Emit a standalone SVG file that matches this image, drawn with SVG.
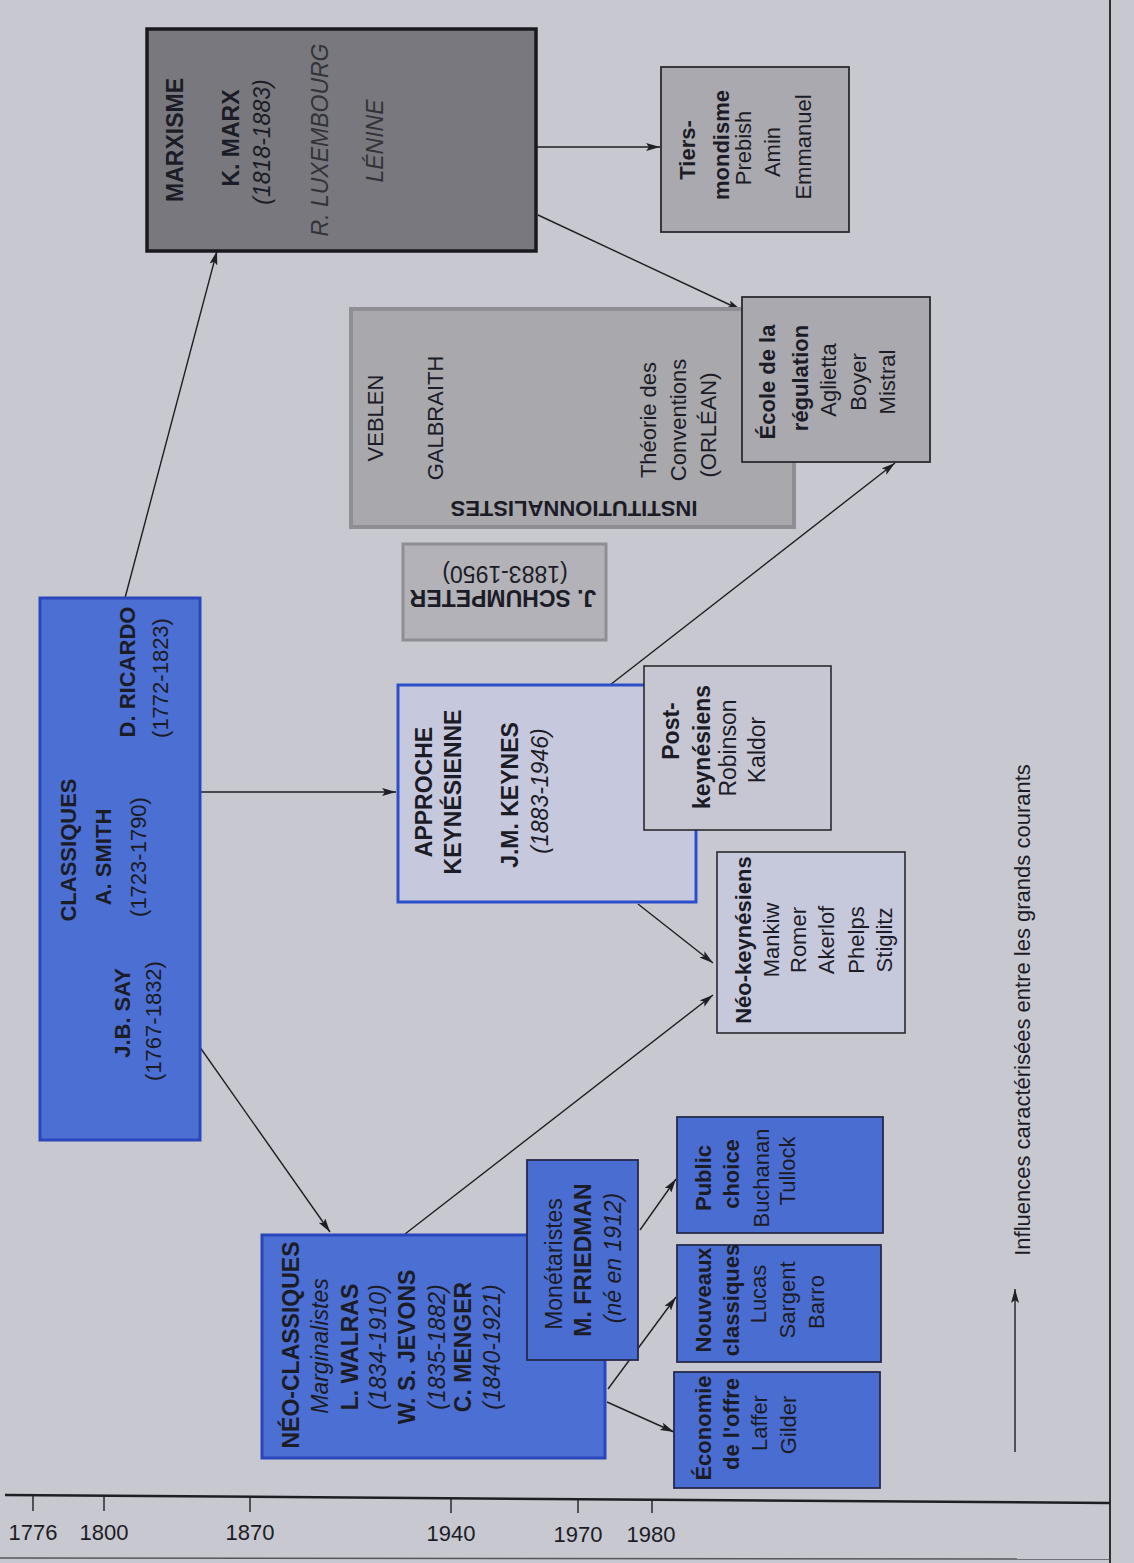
<svg xmlns="http://www.w3.org/2000/svg" width="1134" height="1563" viewBox="0 0 1134 1563">
<defs>
<marker id="ah" viewBox="0 0 14 8" refX="14" refY="4" markerWidth="14" markerHeight="8" markerUnits="userSpaceOnUse" orient="auto">
<path d="M0,0 L14,4 L0,8 L3,4 Z" fill="#1e1e24"/>
</marker>
<style>
text{font-family:"Liberation Sans",Arial,sans-serif;font-size:22px;fill:#1c1c26;text-anchor:middle}
.b{font-weight:bold}
.i{font-style:italic}
.f23{font-size:23px}
.lg{fill:#333338}
.con line{stroke:#1e1e24;stroke-width:1.4;fill:none}
.blue{fill:#4b6fd3;stroke:#2a46bc;stroke-width:3}
.blue2{fill:#4a6dd1;stroke:#262a4a;stroke-width:1.8}
.gray{fill:#a9a9af;stroke:#2a2a30;stroke-width:1.8}
.light{fill:#c6c8dc;stroke:#2a2a30;stroke-width:1.6}
</style>
</defs>
<rect x="0" y="0" width="1134" height="1563" fill="#c8c8d0"/>

<g id="connectors" class="con">
<line x1="125" y1="598" x2="217" y2="251" marker-end="url(#ah)"/>
<line x1="537" y1="147" x2="660" y2="147" marker-end="url(#ah)"/>
<line x1="538" y1="215" x2="741" y2="310" marker-end="url(#ah)"/>
<line x1="200" y1="792" x2="396" y2="792" marker-end="url(#ah)"/>
<line x1="197" y1="1043" x2="330" y2="1232" marker-end="url(#ah)"/>
<line x1="610" y1="685" x2="895" y2="463" marker-end="url(#ah)"/>
<line x1="638" y1="904" x2="713" y2="963" marker-end="url(#ah)"/>
<line x1="405" y1="1234" x2="713" y2="995" marker-end="url(#ah)"/>
<line x1="640" y1="1230" x2="676" y2="1179" marker-end="url(#ah)"/>
<line x1="608" y1="1389" x2="676" y2="1297" marker-end="url(#ah)"/>
<line x1="607" y1="1402" x2="674" y2="1432" marker-end="url(#ah)"/>
<line x1="1015" y1="1452" x2="1015" y2="1289" marker-end="url(#ah)"/>
</g>

<g id="marxisme">
<rect x="147" y="29" width="389" height="222" fill="#78787e" stroke="#1a1a1e" stroke-width="3.5"/>
<text class="b f23" transform="translate(183,140) rotate(-90)">MARXISME</text>
<text class="b f23" transform="translate(239,138) rotate(-90)">K. MARX</text>
<text class="i f23" transform="translate(270,142) rotate(-90)">(1818-1883)</text>
<text class="i f23 lg" transform="translate(328,140) rotate(-90)">R. LUXEMBOURG</text>
<text class="i f23 lg" transform="translate(383,141) rotate(-90)">LÉNINE</text>
</g>

<g id="tiers-mondisme">
<rect x="661" y="67" width="188" height="165" class="gray"/>
<text class="b" transform="translate(695,150) rotate(-90)">Tiers-</text>
<text class="b" transform="translate(729,145) rotate(-90)">mondisme</text>
<text transform="translate(751,148) rotate(-90)">Prebish</text>
<text transform="translate(780,152) rotate(-90)">Amin</text>
<text transform="translate(811,147) rotate(-90)">Emmanuel</text>
</g>

<g id="institutionnalistes">
<rect x="351" y="309" width="443" height="218" fill="#a8a8ad" stroke="#8e8e94" stroke-width="4"/>
<text transform="translate(383,418) rotate(-90)">VEBLEN</text>
<text transform="translate(443,418) rotate(-90)">GALBRAITH</text>
<text transform="translate(656,420) rotate(-90)">Théorie des</text>
<text transform="translate(686,420) rotate(-90)">Conventions</text>
<text transform="translate(716,425) rotate(-90)">(ORLÉAN)</text>
<text class="b" transform="translate(574,501) rotate(180)">INSTITUTIONNALISTES</text>
</g>

<g id="regulation">
<rect x="742" y="297" width="188" height="165" class="gray"/>
<text class="b" transform="translate(775,382) rotate(-90)">École de la</text>
<text class="b" transform="translate(808,378) rotate(-90)">régulation</text>
<text transform="translate(836,380) rotate(-90)">Aglietta</text>
<text transform="translate(866,382) rotate(-90)">Boyer</text>
<text transform="translate(895,382) rotate(-90)">Mistral</text>
</g>

<g id="schumpeter">
<rect x="403" y="544" width="203" height="96" fill="#b2b2b8" stroke="#8e8e94" stroke-width="3"/>
<text class="b f23" transform="translate(503,590) rotate(180)">J. SCHUMPETER</text>
<text class="f23" transform="translate(505,566) rotate(180)">(1883-1950)</text>
</g>

<g id="classiques">
<rect x="40" y="598" width="160" height="542" class="blue"/>
<text class="b" transform="translate(76,850) rotate(-90)">CLASSIQUES</text>
<text class="b" transform="translate(111,857) rotate(-90)">A. SMITH</text>
<text transform="translate(146,857) rotate(-90)">(1723-1790)</text>
<text class="b" transform="translate(135,672) rotate(-90)">D. RICARDO</text>
<text transform="translate(168,678) rotate(-90)">(1772-1823)</text>
<text class="b" transform="translate(130,1013) rotate(-90)">J.B. SAY</text>
<text transform="translate(161,1021) rotate(-90)">(1767-1832)</text>
</g>

<g id="keynesienne">
<rect x="398" y="685" width="298" height="217" fill="#c6c8de" stroke="#2c4ecb" stroke-width="3"/>
<text class="b f23" transform="translate(432,792) rotate(-90)">APPROCHE</text>
<text class="b f23" transform="translate(461,792) rotate(-90)">KEYNÉSIENNE</text>
<text class="b f23" transform="translate(518,795) rotate(-90)">J.M. KEYNES</text>
<text class="i f23" transform="translate(548,791) rotate(-90)">(1883-1946)</text>
</g>

<g id="post-keynesiens">
<rect x="644" y="666" width="187" height="164" fill="#c6c7d3" stroke="#2a2a30" stroke-width="1.6"/>
<text class="b f23" transform="translate(679,731) rotate(-90)">Post-</text>
<text class="b f23" transform="translate(710,747) rotate(-90)">keynésiens</text>
<text class="f23" transform="translate(736,748) rotate(-90)">Robinson</text>
<text class="f23" transform="translate(765,750) rotate(-90)">Kaldor</text>
</g>

<g id="neo-keynesiens">
<rect x="717" y="852" width="188" height="181" class="light"/>
<text class="b" transform="translate(751,940) rotate(-90)">Néo-keynésiens</text>
<text transform="translate(779,940) rotate(-90)">Mankiw</text>
<text transform="translate(806,940) rotate(-90)">Romer</text>
<text transform="translate(834,940) rotate(-90)">Akerlof</text>
<text transform="translate(864,940) rotate(-90)">Phelps</text>
<text transform="translate(892,940) rotate(-90)">Stiglitz</text>
</g>

<g id="neo-classiques">
<rect x="262" y="1235" width="343" height="223" class="blue"/>
<text class="b f23" transform="translate(299,1345) rotate(-90)">NÉO-CLASSIQUES</text>
<text class="i f23" transform="translate(328,1346) rotate(-90)">Marginalistes</text>
<text class="b f23" transform="translate(358,1347) rotate(-90)">L. WALRAS</text>
<text class="i f23" transform="translate(386,1347) rotate(-90)">(1834-1910)</text>
<text class="b f23" transform="translate(415,1347) rotate(-90)">W. S. JEVONS</text>
<text class="i f23" transform="translate(445,1347) rotate(-90)">(1835-1882)</text>
<text class="b f23" transform="translate(471,1347) rotate(-90)">C. MENGER</text>
<text class="i f23" transform="translate(500,1347) rotate(-90)">(1840-1921)</text>
</g>

<g id="monetaristes">
<rect x="527" y="1160" width="111" height="200" class="blue2"/>
<text class="f23" transform="translate(562,1264) rotate(-90)">Monétaristes</text>
<text class="b f23" transform="translate(591,1260) rotate(-90)">M. FRIEDMAN</text>
<text class="i f23" transform="translate(621,1258) rotate(-90)">(né en 1912)</text>
</g>

<g id="public-choice">
<rect x="677" y="1117" width="206" height="116" class="blue2"/>
<text class="b" transform="translate(711,1178) rotate(-90)">Public</text>
<text class="b" transform="translate(739,1174) rotate(-90)">choice</text>
<text transform="translate(769,1178) rotate(-90)">Buchanan</text>
<text transform="translate(795,1171) rotate(-90)">Tullock</text>
</g>

<g id="nouveaux-classiques">
<rect x="677" y="1245" width="204" height="117" class="blue2"/>
<text class="b" transform="translate(711,1300) rotate(-90)">Nouveaux</text>
<text class="b" transform="translate(739,1300) rotate(-90)">classiques</text>
<text transform="translate(766,1294) rotate(-90)">Lucas</text>
<text transform="translate(795,1300) rotate(-90)">Sargent</text>
<text transform="translate(824,1302) rotate(-90)">Barro</text>
</g>

<g id="economie-offre">
<rect x="674" y="1372" width="206" height="116" class="blue2"/>
<text class="b" transform="translate(711,1428) rotate(-90)">Économie</text>
<text class="b" transform="translate(739,1424) rotate(-90)">de l'offre</text>
<text transform="translate(767,1423) rotate(-90)">Laffer</text>
<text transform="translate(796,1425) rotate(-90)">Gilder</text>
</g>

<g id="legend">
<text transform="translate(1030,1010) rotate(-90)">Influences caractérisées entre les grands courants</text>
</g>

<g id="timeline">
<line x1="5" y1="1495" x2="1110" y2="1503" stroke="#1e1e24" stroke-width="2.5"/>
<line x1="1110" y1="0" x2="1110" y2="1563" stroke="#1e1e24" stroke-width="1.8"/>
<line x1="0" y1="1558" x2="1110" y2="1559" stroke="#55555c" stroke-width="1.5"/>
<g stroke="#1e1e24" stroke-width="1.4">
<line x1="33" y1="1495" x2="33" y2="1511"/>
<line x1="104" y1="1496" x2="104" y2="1511"/>
<line x1="250" y1="1497" x2="250" y2="1512"/>
<line x1="451" y1="1498" x2="451" y2="1513"/>
<line x1="578" y1="1499" x2="578" y2="1513"/>
<line x1="652" y1="1499" x2="652" y2="1513"/>
</g>
<text x="33" y="1540">1776</text>
<text x="104" y="1540">1800</text>
<text x="250" y="1540">1870</text>
<text x="451" y="1541">1940</text>
<text x="578" y="1542">1970</text>
<text x="651" y="1542">1980</text>
</g>
</svg>
